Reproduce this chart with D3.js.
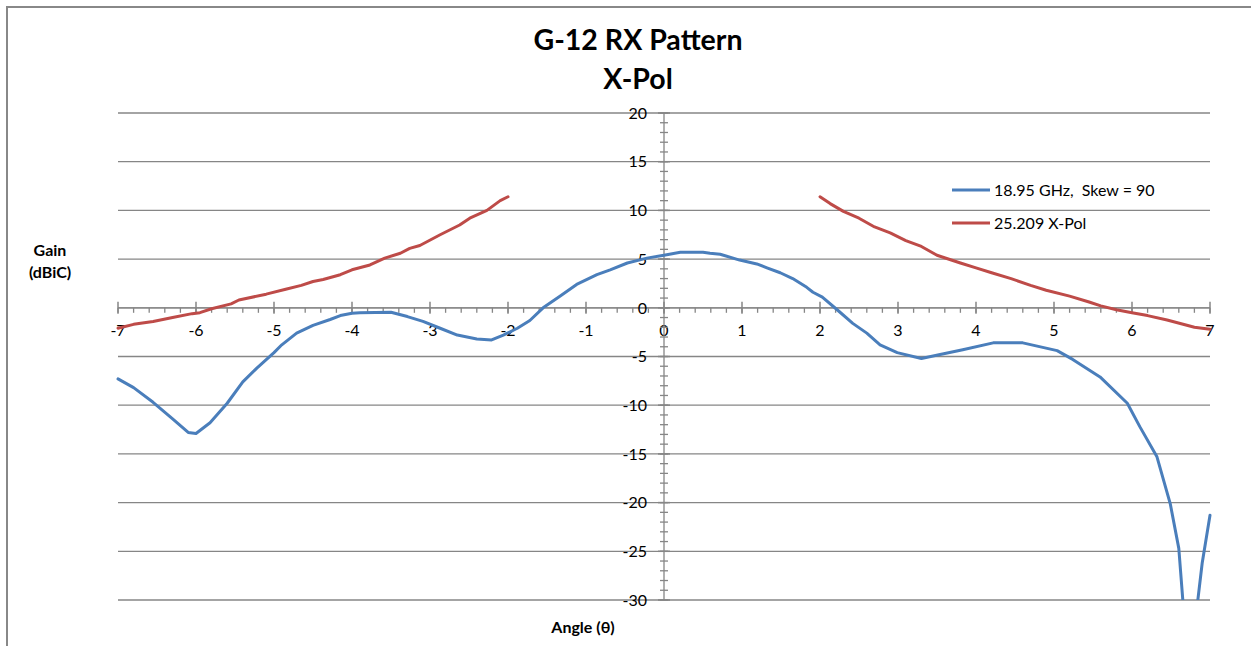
<!DOCTYPE html>
<html><head><meta charset="utf-8">
<script src="https://cdn.jsdelivr.net/npm/d3@7"></script>
<style>
body{margin:0;background:#fff;}
svg{display:block;font-family:Lato,"Open Sans",sans-serif;}
</style></head>
<body><svg id="c" width="1251" height="646"></svg>
<script>
const titleLines = ["G-12 RX Pattern", "X-Pol"];
const yLabelLines = ["Gain", "(dBiC)"];
const xLabel = "Angle (θ)";
const seriesNames = ["18.95 GHz,  Skew = 90", "25.209 X-Pol"];
const seriesColors = ["#4a7ebb", "#be4b48"];
const xTicks = [-7,-6,-5,-4,-3,-2,-1,0,1,2,3,4,5,6,7];
const yTicks = [-30,-25,-20,-15,-10,-5,0,5,10,15,20];

const blueAngle = [-7.0,-6.8,-6.55,-6.3,-6.1,-6.0,-5.82,-5.6,-5.4,-5.22,-5.0,-4.9,-4.71,-4.5,-4.28,-4.15,-4.0,-3.9,-3.5,-3.29,-3.09,-2.87,-2.65,-2.4,-2.21,-2.06,-1.88,-1.72,-1.55,-1.33,-1.12,-0.86,-0.69,-0.47,-0.22,0.0,0.21,0.5,0.59,0.72,0.97,1.19,1.32,1.49,1.65,1.83,1.91,2.03,2.22,2.42,2.6,2.77,2.99,3.3,3.54,3.83,4.22,4.6,5.04,5.24,5.59,5.94,6.1,6.32,6.49,6.6,6.7,6.8,6.9,7.0];
const blueGain = [-7.3,-8.2,-9.7,-11.4,-12.8,-12.9,-11.8,-9.8,-7.6,-6.2,-4.6,-3.8,-2.6,-1.8,-1.2,-0.8,-0.55,-0.5,-0.45,-0.9,-1.4,-2.1,-2.8,-3.2,-3.3,-2.8,-2.1,-1.3,0.0,1.2,2.4,3.4,3.9,4.6,5.1,5.4,5.7,5.7,5.6,5.5,4.9,4.5,4.1,3.6,3.0,2.1,1.6,1.1,-0.2,-1.6,-2.6,-3.8,-4.6,-5.2,-4.8,-4.3,-3.6,-3.6,-4.4,-5.3,-7.1,-9.8,-12.2,-15.3,-20.1,-24.7,-35,-33,-26.2,-21.3];

const redLeftAngle = [-7.0,-6.8,-6.55,-6.3,-6.05,-5.95,-5.8,-5.55,-5.45,-5.1,-4.85,-4.65,-4.5,-4.37,-4.15,-4.0,-3.77,-3.58,-3.38,-3.26,-3.13,-2.87,-2.62,-2.49,-2.27,-2.1,-2.0];
const redLeftGain = [-2.1,-1.7,-1.4,-1.0,-0.6,-0.5,-0.1,0.4,0.8,1.4,1.9,2.3,2.7,2.9,3.4,3.9,4.4,5.1,5.6,6.1,6.4,7.5,8.5,9.2,10.0,11.0,11.4];
const redRightAngle = [2.0,2.13,2.3,2.5,2.7,2.9,3.1,3.3,3.5,3.8,4.0,4.2,4.45,4.7,4.9,5.2,5.45,5.6,5.8,6.0,6.2,6.45,6.8,7.0];
const redRightGain = [11.4,10.7,9.9,9.2,8.3,7.7,6.9,6.3,5.4,4.6,4.1,3.6,3.0,2.3,1.8,1.2,0.6,0.2,-0.2,-0.5,-0.8,-1.25,-2.0,-2.2];

const svg = d3.select("#c");
const grid = "#868686";
const x = d3.scaleLinear().domain([-7,7]).range([118,1210]);
const y = d3.scaleLinear().domain([-30,20]).range([600,113]);

// frame
svg.append("rect").attr("x",7).attr("y",7).attr("width",1260).attr("height",660)
  .attr("fill","none").attr("stroke","#888").attr("stroke-width",2);

// gridlines
svg.append("g").selectAll("line").data(yTicks).join("line")
  .attr("x1",x(-7)).attr("x2",x(7)).attr("y1",d=>y(d)).attr("y2",d=>y(d))
  .attr("stroke",grid).attr("stroke-width",1.3);

// x axis at y=0
const xMinor = d3.range(-7,7.001,0.2);
const gx = svg.append("g").attr("transform",`translate(0,${y(0)})`);
gx.append("line").attr("x1",x(-7)).attr("x2",x(7)).attr("stroke",grid).attr("stroke-width",1.3);
gx.selectAll("line.mi").data(xMinor).join("line").attr("class","mi")
  .attr("x1",d=>x(d)).attr("x2",d=>x(d)).attr("y1",0).attr("y2",5).attr("stroke",grid).attr("stroke-width",1.3);
gx.selectAll("line.ma").data(xTicks).join("line").attr("class","ma")
  .attr("x1",d=>x(d)).attr("x2",d=>x(d)).attr("y1",-6).attr("y2",6).attr("stroke",grid).attr("stroke-width",1.5);
gx.selectAll("text").data(xTicks).join("text")
  .attr("x",d=>x(d)).attr("y",28).attr("text-anchor","middle")
  .attr("font-size",16).attr("fill","#000").text(d=>d);

// y axis at x=0
const yMinor = d3.range(-30,20.001,1);
const gy = svg.append("g").attr("transform",`translate(${x(0)},0)`);
gy.append("line").attr("y1",y(-30)).attr("y2",y(20)).attr("stroke",grid).attr("stroke-width",1.3);
gy.selectAll("line.mi").data(yMinor).join("line").attr("class","mi")
  .attr("y1",d=>y(d)).attr("y2",d=>y(d)).attr("x1",-4).attr("x2",4).attr("stroke",grid).attr("stroke-width",1.3);
gy.selectAll("line.ma").data(yTicks).join("line").attr("class","ma")
  .attr("y1",d=>y(d)).attr("y2",d=>y(d)).attr("x1",-6).attr("x2",6).attr("stroke",grid).attr("stroke-width",1.5);
gy.selectAll("text").data(yTicks).join("text")
  .attr("x",-17).attr("y",d=>y(d)).attr("dy","0.36em").attr("text-anchor","end")
  .attr("font-size",16).attr("fill","#000").text(d=>d);

// clip
svg.append("clipPath").attr("id","pc").append("rect")
  .attr("x",x(-7)-3).attr("y",y(20)).attr("width",x(7)-x(-7)+6).attr("height",y(-30)-y(20));

const line = d3.line().x(d=>x(d[0])).y(d=>y(d[1]));
const plot = svg.append("g").attr("clip-path","url(#pc)");
const series = [
  {pts: d3.zip(blueAngle, blueGain), c: seriesColors[0]},
  {pts: d3.zip(redLeftAngle, redLeftGain), c: seriesColors[1]},
  {pts: d3.zip(redRightAngle, redRightGain), c: seriesColors[1]}
];
plot.selectAll("path").data(series).join("path")
  .attr("d",d=>line(d.pts)).attr("fill","none").attr("stroke",d=>d.c)
  .attr("stroke-width",3).attr("stroke-linejoin","round").attr("stroke-linecap","round");

// title
svg.append("g").selectAll("text").data(titleLines).join("text")
  .attr("x",638).attr("y",(d,i)=>50+i*39).attr("text-anchor","middle")
  .attr("font-size",28.5).attr("font-weight","bold").attr("fill","#000").text(d=>d);

// y label
svg.append("g").selectAll("text").data(yLabelLines).join("text")
  .attr("x",50).attr("y",(d,i)=>256+i*22).attr("text-anchor","middle")
  .attr("font-size",16).attr("font-weight","bold").attr("fill","#000").text(d=>d);

// x label
svg.append("text").attr("x",583).attr("y",633).attr("text-anchor","middle")
  .attr("font-size",16).attr("font-weight","bold").attr("fill","#000").text(xLabel);

// legend
const lg = svg.append("g").selectAll("g").data(seriesNames).join("g")
  .attr("transform",(d,i)=>`translate(952,${190+i*33})`);
lg.append("line").attr("x1",0).attr("x2",38).attr("stroke",(d,i)=>seriesColors[i]).attr("stroke-width",3);
lg.append("text").attr("x",42).attr("dy","0.36em").attr("font-size",16).attr("fill","#000")
  .attr("xml:space","preserve").style("white-space","pre").text(d=>d);
</script></body></html>
